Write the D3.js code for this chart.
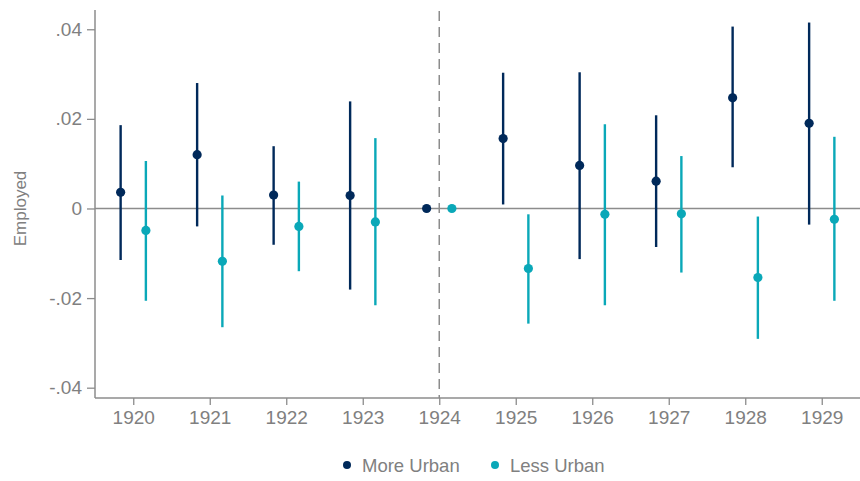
<!DOCTYPE html>
<html>
<head>
<meta charset="utf-8">
<script src="https://cdn.jsdelivr.net/npm/d3@7"></script>
<style>
  html, body { margin: 0; padding: 0; background: #ffffff; }
  svg { display: block; font-family: "Liberation Sans", Arial, sans-serif; }
</style>
</head>
<body>
<svg id="chart" width="860" height="481"></svg>
<script>
// Event-study estimates of employment effects, by urbanisation group
const years = [1920, 1921, 1922, 1923, 1924, 1925, 1926, 1927, 1928, 1929];

const moreUrbanEst = [0.0036, 0.0120, 0.0030, 0.0029, 0, 0.0156, 0.0096, 0.0061, 0.0247, 0.0190];
const moreUrbanLo  = [-0.0115, -0.0040, -0.0081, -0.0181, 0, 0.0009, -0.0113, -0.0086, 0.0092, -0.0036];
const moreUrbanHi  = [0.0186, 0.0280, 0.0139, 0.0239, 0, 0.0303, 0.0304, 0.0208, 0.0406, 0.0415];

const lessUrbanEst = [-0.0049, -0.0118, -0.0040, -0.0030, 0, -0.0134, -0.0013, -0.0012, -0.0154, -0.0024];
const lessUrbanLo  = [-0.0206, -0.0265, -0.0140, -0.0216, 0, -0.0257, -0.0216, -0.0143, -0.0291, -0.0206];
const lessUrbanHi  = [0.0106, 0.0029, 0.0060, 0.0157, 0, -0.0013, 0.0188, 0.0117, -0.0018, 0.0160];

const yTicks = [-0.04, -0.02, 0, 0.02, 0.04];
const yTickLabels = ["-.04", "-.02", "0", ".02", ".04"];
const refYear = 1924;

const seriesNames = ["More Urban", "Less Urban"];
const colors = ["#00295a", "#0aa8b8"];
const offsets = [-0.165, 0.165];

const svg = d3.select("#chart");
const W = 860, H = 481;
const margin = { left: 95, right: 0, top: 10, bottom: 83 };
const axisGrey = "#8c8c8c";
const textGrey = "#808080";

const x = d3.scaleLinear()
  .domain([years[0] - 0.5, years[years.length - 1] + 0.5])
  .range([margin.left, W - margin.right]);

const y = d3.scaleLinear()
  .domain([-0.0423, 0.0443])
  .range([H - margin.bottom, margin.top]);

// Axes
const yAxis = d3.axisLeft(y)
  .tickValues(yTicks)
  .tickFormat((d, i) => yTickLabels[i])
  .tickSize(8)
  .tickPadding(5);

const xAxis = d3.axisBottom(x)
  .tickValues(years)
  .tickFormat(d3.format("d"))
  .tickSize(7)
  .tickPadding(6);

const gy = svg.append("g")
  .attr("transform", `translate(${margin.left},0)`)
  .call(yAxis);

const gx = svg.append("g")
  .attr("transform", `translate(0,${H - margin.bottom})`)
  .call(xAxis);

[gx, gy].forEach(g => {
  g.select(".domain").attr("stroke", axisGrey).attr("stroke-width", 1.5);
  g.selectAll(".tick line").attr("stroke", axisGrey).attr("stroke-width", 1.3);
  g.selectAll(".tick text")
    .attr("fill", textGrey)
    .style("font-size", "19px")
    .style("font-family", "'Liberation Sans', Arial, sans-serif");
});
gy.select(".domain").attr("d", `M0,${margin.top}V${H - margin.bottom}`);
gx.select(".domain").attr("d", `M${margin.left},0H${W}`);

// Y axis title
svg.append("text")
  .attr("transform", `translate(26,${y(0)}) rotate(-90)`)
  .attr("text-anchor", "middle")
  .attr("fill", textGrey)
  .style("font-size", "17px")
  .text("Employed");

// Zero line
svg.append("line")
  .attr("x1", margin.left).attr("x2", W)
  .attr("y1", y(0)).attr("y2", y(0))
  .attr("stroke", axisGrey).attr("stroke-width", 1.5);

// Reference year (dashed)
svg.append("line")
  .attr("x1", x(refYear)).attr("x2", x(refYear))
  .attr("y1", margin.top + 1).attr("y2", H - margin.bottom)
  .attr("stroke", axisGrey).attr("stroke-width", 1.5)
  .attr("stroke-dasharray", "10,6");

// Series: whiskers and point estimates
const series = [
  { est: moreUrbanEst, lo: moreUrbanLo, hi: moreUrbanHi },
  { est: lessUrbanEst, lo: lessUrbanLo, hi: lessUrbanHi }
];

series.forEach((s, si) => {
  const rows = years.map((yr, i) => ({ yr, est: s.est[i], lo: s.lo[i], hi: s.hi[i] }));
  const g = svg.append("g");
  g.selectAll("line.ci")
    .data(rows.filter(r => r.hi !== r.lo))
    .join("line")
    .attr("class", "ci")
    .attr("x1", d => x(d.yr + offsets[si]))
    .attr("x2", d => x(d.yr + offsets[si]))
    .attr("y1", d => y(d.lo))
    .attr("y2", d => y(d.hi))
    .attr("stroke", colors[si])
    .attr("stroke-width", 2.4);
  g.selectAll("circle")
    .data(rows)
    .join("circle")
    .attr("cx", d => x(d.yr + offsets[si]))
    .attr("cy", d => y(d.est))
    .attr("r", 4.6)
    .attr("fill", colors[si]);
});

// Legend
const legendX = [347, 495];
const legendY = 465;
seriesNames.forEach((name, i) => {
  svg.append("circle")
    .attr("cx", legendX[i]).attr("cy", legendY)
    .attr("r", 4).attr("fill", colors[i]);
  svg.append("text")
    .attr("x", legendX[i] + 15).attr("y", legendY + 7)
    .attr("fill", textGrey)
    .style("font-size", "18.5px")
    .text(name);
});
</script>
</body>
</html>
